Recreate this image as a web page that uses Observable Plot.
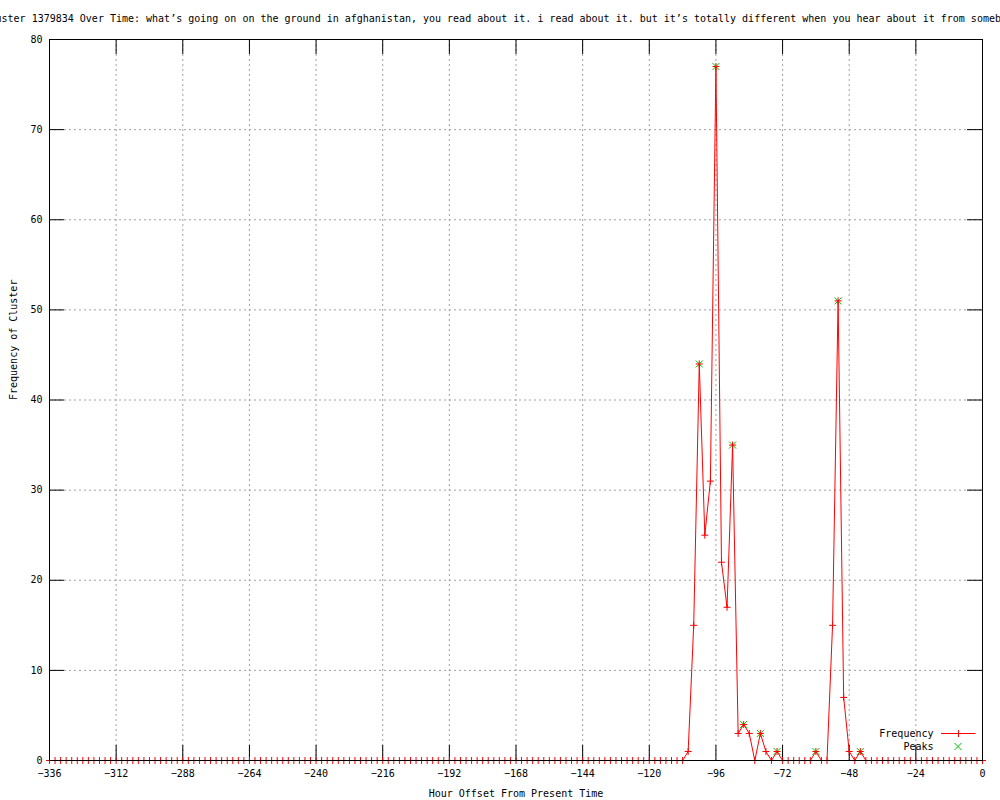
<!DOCTYPE html>
<html>
<head>
<meta charset="utf-8">
<script src="https://cdn.jsdelivr.net/npm/d3@7"></script>
<script src="https://cdn.jsdelivr.net/npm/@observablehq/plot@0.6"></script>
<style>
  body { margin: 0; background: #ffffff; }
  #chart svg { display: block; }
</style>
</head>
<body>
<div id="chart"></div>
<script>
// ---------- data ----------
const titleText = "Cluster 1379834 Over Time: what’s going on on the ground in afghanistan, you read about it. i read about it. but it’s totally different when you hear about it from somebody";
const xLabel = "Hour Offset From Present Time";
const yLabel = "Frequency of Cluster";
const seriesNames = ["Frequency", "Peaks"];

// hour offsets, one sample every 2 hours from -336 to 0
const hours = d3.range(-336, 1, 2);
const frequency = [
  // -336 .. -290
  0,0,0,0,0,0,0,0,0,0,0,0,0,0,0,0,0,0,0,0,0,0,0,0,
  // -288 .. -242
  0,0,0,0,0,0,0,0,0,0,0,0,0,0,0,0,0,0,0,0,0,0,0,0,
  // -240 .. -194
  0,0,0,0,0,0,0,0,0,0,0,0,0,0,0,0,0,0,0,0,0,0,0,0,
  // -192 .. -146
  0,0,0,0,0,0,0,0,0,0,0,0,0,0,0,0,0,0,0,0,0,0,0,0,
  // -144 .. -108
  0,0,0,0,0,0,0,0,0,0,0,0,0,0,0,0,0,0,0,
  // -106 .. -74
  1,15,44,25,31,77,22,17,35,3,4,3,0,3,1,0,1,
  // -72 .. -62
  0,0,0,0,0,0,
  // -60 .. -44
  1,0,0,15,51,7,1,0,1,
  // -42 .. 0
  0,0,0,0,0,0,0,0,0,0,0,0,0,0,0,0,0,0,0,0,0,0
];
const peakHours  = [-102, -96, -90, -86, -80, -74, -60, -52, -44];
const peakValues = [  44,  77,  35,   4,   3,   1,   1,  51,   1];

const xTicks = [-336, -312, -288, -264, -240, -216, -192, -168, -144, -120, -96, -72, -48, -24, 0];
const xTickLabels = ["−336", "−312", "−288", "−264", "−240", "−216", "−192", "−168", "−144", "−120", "−96", "−72", "−48", "−24", "0"];
const yTicks = [0, 10, 20, 30, 40, 50, 60, 70, 80];
const yTickLabels = ["0", "10", "20", "30", "40", "50", "60", "70", "80"];

// ---------- tables ----------
const series = hours.map((h, i) => ({hour: h, value: frequency[i]}));
const peaks = peakHours.map((h, i) => ({hour: h, value: peakValues[i]}));

// ---------- layout ----------
const W = 1000, H = 800;
const M = {top: 39, right: 18, bottom: 40, left: 49};
const frameW = W - M.left - M.right;
const frameH = H - M.top - M.bottom;
const tickLen = 15;
const FONT = "'DejaVu Sans Mono', 'Liberation Mono', monospace";
const RED = "#ff0000", GREEN = "#00c000", GRID = "#a0a0a0";
const ARM = 3.5;

// gnuplot-like point symbols (fixed pixel size)
const plusSymbol = {draw(ctx) { ctx.moveTo(-ARM, 0); ctx.lineTo(ARM, 0); ctx.moveTo(0, -ARM); ctx.lineTo(0, ARM); }};
const timesSymbol = {draw(ctx) { ctx.moveTo(-ARM, -ARM); ctx.lineTo(ARM, ARM); ctx.moveTo(-ARM, ARM); ctx.lineTo(ARM, -ARM); }};

const innerX = xTicks.filter(d => d > -336 && d < 0);
const innerY = yTicks.filter(d => d > 0 && d < 80);

const plot = Plot.plot({
  width: W,
  height: H,
  marginTop: M.top,
  marginRight: M.right,
  marginBottom: M.bottom,
  marginLeft: M.left,
  style: {fontFamily: FONT, fontSize: "10px", background: "#ffffff", color: "#000000", overflow: "hidden"},
  x: {
    domain: [-336, 0],
    ticks: xTicks,
    tickSize: 0,
    tickPadding: 9,
    tickFormat: d => xTickLabels[xTicks.indexOf(d)],
    label: null
  },
  y: {
    domain: [0, 80],
    ticks: yTicks,
    tickSize: 0,
    tickPadding: 7,
    tickFormat: d => yTickLabels[yTicks.indexOf(d)],
    label: null
  },
  marks: [
    // dotted grid
    Plot.ruleX(innerX, {stroke: GRID, strokeWidth: 1, strokeDasharray: "2,3"}),
    Plot.ruleY(innerY, {stroke: GRID, strokeWidth: 1, strokeDasharray: "2,3"}),
    // inward major ticks (bottom/top/left/right)
    Plot.ruleX(xTicks, {stroke: "#000", insetTop: frameH - tickLen}),
    Plot.ruleX(xTicks, {stroke: "#000", insetBottom: frameH - tickLen}),
    Plot.ruleY(yTicks, {stroke: "#000", insetRight: frameW - tickLen}),
    Plot.ruleY(yTicks, {stroke: "#000", insetLeft: frameW - tickLen}),
    // peaks
    Plot.dot(peaks, {x: "hour", y: "value", symbol: timesSymbol, r: 3, stroke: GREEN, strokeWidth: 1, fill: "none"}),
    // frequency line + markers
    Plot.line(series, {x: "hour", y: "value", stroke: RED, strokeWidth: 1, curve: "linear"}),
    Plot.dot(series, {x: "hour", y: "value", symbol: plusSymbol, r: 3, stroke: RED, strokeWidth: 1, fill: "none"}),
    // frame
    Plot.frame({stroke: "#000", strokeWidth: 1}),
    // title & axis labels
    Plot.text([titleText], {text: d => d, frameAnchor: "top-left", textAnchor: "start", lineAnchor: "middle", dx: -66, dy: -21, fontSize: 10, fill: "#000"}),
    Plot.text([xLabel], {text: d => d, frameAnchor: "bottom", lineAnchor: "middle", dy: 33, fontSize: 10, fill: "#000"}),
    Plot.text([yLabel], {text: d => d, frameAnchor: "left", rotate: -90, lineAnchor: "middle", dx: -36, fontSize: 10, fill: "#000"})
  ]
});

document.getElementById("chart").appendChild(plot);

// ---------- legend (inside plot, bottom right) ----------
const fx = W - M.right, fy = H - M.bottom;
const lg = d3.select(plot).append("g")
  .attr("font-family", FONT)
  .attr("font-size", 10);
const rowY = [fy - 26.5, fy - 13.5];
lg.append("text").attr("x", fx - 48.5).attr("y", rowY[0]).attr("dy", "0.32em")
  .attr("text-anchor", "end").attr("fill", "#000").text(seriesNames[0]);
lg.append("text").attr("x", fx - 48.5).attr("y", rowY[1]).attr("dy", "0.32em")
  .attr("text-anchor", "end").attr("fill", "#000").text(seriesNames[1]);
lg.append("line").attr("x1", fx - 41).attr("x2", fx - 6.5)
  .attr("y1", rowY[0]).attr("y2", rowY[0]).attr("stroke", RED).attr("stroke-width", 1);
lg.append("path").attr("transform", `translate(${fx - 23.5},${rowY[0]})`)
  .attr("d", `M${-ARM},0H${ARM}M0,${-ARM}V${ARM}`).attr("stroke", RED).attr("fill", "none");
lg.append("path").attr("transform", `translate(${fx - 24},${rowY[1]})`)
  .attr("d", `M${-ARM},${-ARM}L${ARM},${ARM}M${-ARM},${ARM}L${ARM},${-ARM}`).attr("stroke", GREEN).attr("fill", "none");
</script>
</body>
</html>
